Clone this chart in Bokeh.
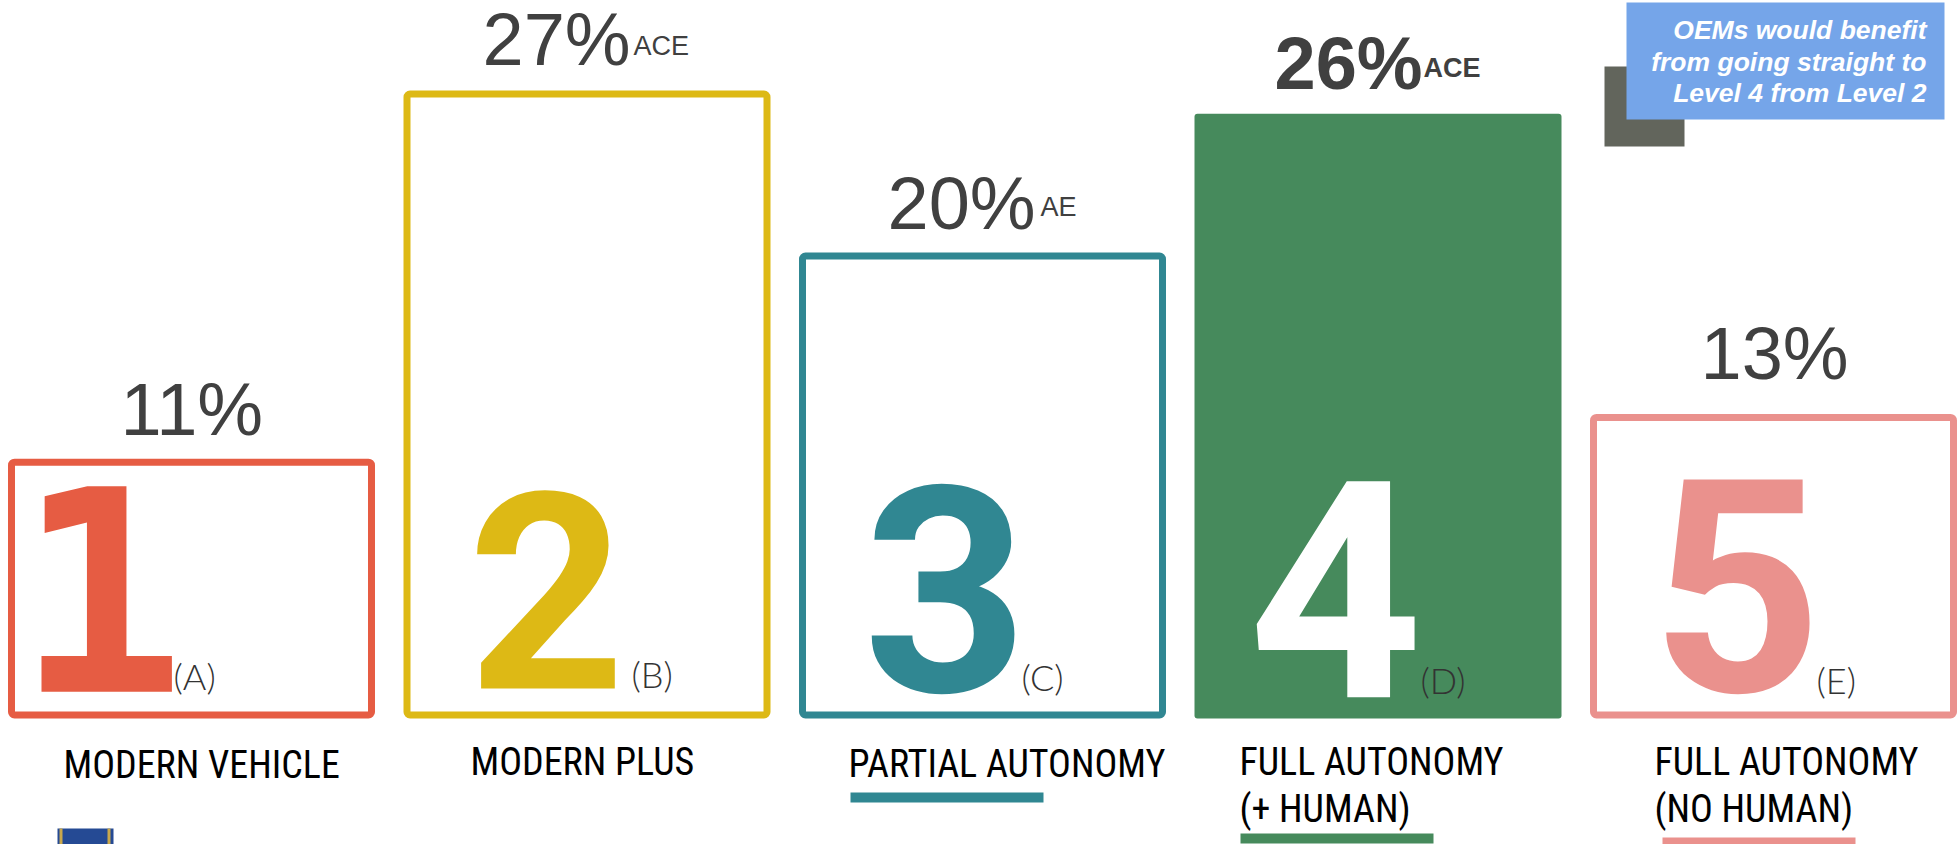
from bokeh.plotting import figure
from bokeh.models import Range1d
from bokeh.core.properties import value
from bokeh.embed import file_html
from bokeh.resources import INLINE

levels = ["1", "2", "3", "4", "5"]
letters = ["(A)", "(B)", "(C)", "(D)", "(E)"]
shares = [11.15, 26.95, 20.0, 25.96, 13.07]
share_labels = ["11%", "27%", "20%", "26%", "13%"]
superscripts = ["", "ACE", "AE", "ACE", ""]
names = [["MODERN VEHICLE"], ["MODERN PLUS"], ["PARTIAL AUTONOMY"],
         ["FULL AUTONOMY", "(+ HUMAN)"], ["FULL AUTONOMY", "(NO HUMAN)"]]
note = ["OEMs would benefit", "from going straight to", "Level 4 from Level 2"]
colors = ["#E65C43", "#DDB915", "#308792", "#468A5C", "#EA918D"]
filled = [False, False, False, True, False]
digit_colors = ["#E65C43", "#DDB915", "#308792", "#FFFFFF", "#EA918D"]

W, H = 1959, 844
BASE, PX_PER_PCT = 718, 23.3
C0, STEP, BW = 191, 395.5, 367
SW = 7

p = figure(width=W, height=H, output_backend="svg", toolbar_location=None,
           x_range=Range1d(-C0 / STEP, (W - C0) / STEP),
           y_range=Range1d(-(H - BASE) / PX_PER_PCT, BASE / PX_PER_PCT),
           min_border=0, outline_line_color=None, background_fill_color="white",
           border_fill_color="white")
p.axis.visible = False
p.grid.visible = False
p.extra_x_ranges = {"px": Range1d(0, W)}
p.extra_y_ranges = {"px": Range1d(H, 0)}

BASELINE_K = 0.37


def txt(x, y, s, size, color, font="Liberation Sans", style="normal", align="left"):
    yy = y - BASELINE_K * size
    p.text([x], [yy], text=[s], x_range_name="px", y_range_name="px",
           text_font=value(font), text_font_size=f"{size}px", text_font_style=style,
           text_color=color, text_align=align, text_baseline="middle")


def box(x0, x1, y0, y1, color):
    p.quad(left=[x0], right=[x1], top=[y0], bottom=[y1], x_range_name="px",
           y_range_name="px", fill_color=color, line_color=None)


# bars
for i, (v, c, f) in enumerate(zip(shares, colors, filled)):
    ix = (SW / 2) / STEP
    iy = (SW / 2) / PX_PER_PCT
    half = BW / STEP / 2
    if f:
        p.quad(left=[i - half], right=[i + half], top=[v], bottom=[0],
               fill_color=c, line_color=None, border_radius=3)
    else:
        p.quad(left=[i - half + ix], right=[i + half - ix], top=[v - iy], bottom=[iy],
               fill_color=None, line_color=c, line_width=SW, border_radius=3)

# big digits
digit_x = [100, 546, 945, 1335, 1736]
digit_y = [692, 691, 694, 700, 694]
digit_size = [282, 275, 288, 304, 298]
digit_font = ["DejaVu Sans Mono", "Roboto", "Roboto", "Roboto", "Roboto"]
for s, x, y, c, z, f in zip(levels, digit_x, digit_y, digit_colors, digit_size, digit_font):
    txt(x, y, s, z, c, f, "bold", "center")

# letters
let_x = [173, 631, 1021, 1420, 1816]
let_y = [689, 687, 690, 693, 693]
for s, x, y in zip(letters, let_x, let_y):
    txt(x, y, s, 36, "#333333", "Lato Light")

# percentages
pct_x = [120, 482, 887, 1274, 1700]
pct_y = [436, 66, 230, 90, 380]
sup_x = [0, 633, 1040, 1423, 0]
sup_y = [0, 55, 216, 77, 0]
for i, s in enumerate(share_labels):
    st = "bold" if filled[i] else "normal"
    txt(pct_x[i], pct_y[i], s, 74, "#404040", style=st)
    if superscripts[i]:
        txt(sup_x[i], sup_y[i], superscripts[i], 27, "#404040", style=st)

# category names
name_x = [63, 470, 848, 1239, 1654]
name_y = [779, 776, 778, 776, 776]
for lines, x, y in zip(names, name_x, name_y):
    for k, s in enumerate(lines):
        txt(x, y + 47 * k, s, 38, "#000000", "Roboto Condensed")

# underlines
box(850, 1043, 792, 802, colors[2])
box(1240, 1433, 833, 843, colors[3])
box(1662, 1855, 837, 846, colors[4])

# icon fragment at the lower edge
box(57, 113, 828, 846, "#254A94")
box(59, 62, 828, 846, "#C9A84C")
box(107, 110, 828, 846, "#C9A84C")

# callout
box(1604, 1684, 66, 146, "#62655C")
box(1626, 1944, 2, 119, "#75A5E9")
for s, y in zip(note, [39, 71, 102]):
    txt(1926, y, s, 26.5, "#FFFFFF", style="bold italic", align="right")

open("out.html", "w").write(file_html(p, INLINE))
